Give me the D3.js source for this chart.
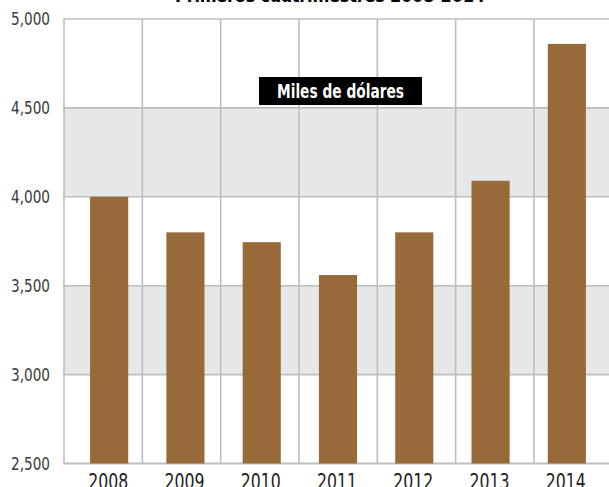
<!DOCTYPE html>
<html>
<head>
<meta charset="utf-8">
<script src="https://cdn.jsdelivr.net/npm/d3@7"></script>
<style>
  body { margin: 0; background: #fff; }
  svg { display: block; }
</style>
</head>
<body>
<div class="canvas"></div>
<script>
// data
const years = ['2008', '2009', '2010', '2011', '2012', '2013', '2014'];
const values = [4000, 3800, 3745, 3560, 3800, 4090, 4860];
const yTicks = [2500, 3000, 3500, 4000, 4500, 5000];
const shadedBands = [[3000, 3500], [4000, 4500]];
const title = 'Primeros cuatrimestres 2008-2014';
const unitLabel = 'Miles de dólares';

const width = 609, height = 487;
const plotLeft = 64, plotRight = 612.3, plotTop = 19, plotBottom = 463.5;

const svg = d3.select('.canvas').append('svg')
    .attr('width', width)
    .attr('height', height);

const y = d3.scaleLinear().domain([2500, 5000]).range([plotBottom, plotTop]);

// grid columns and bars sit on slightly different scales in the original
const xGrid = d3.scaleBand().domain(years).range([plotLeft, plotRight]);
const x = d3.scaleBand().domain(years).range([71, 605])
    .paddingInner(0.5).paddingOuter(0.25);

const gridColor = '#bcbec0';
const font = '"Liberation Sans Narrow", "DejaVu Sans Condensed", Arial, sans-serif';

// grey bands
svg.selectAll('rect.band')
    .data(shadedBands)
    .enter().append('rect')
    .attr('class', 'band')
    .attr('x', plotLeft)
    .attr('width', plotRight - plotLeft)
    .attr('y', d => y(d[1]))
    .attr('height', d => y(d[0]) - y(d[1]))
    .attr('fill', '#e6e7e8');

// vertical grid lines
const vLines = years.map(d => xGrid(d)).concat([plotRight]);
svg.selectAll('line.v')
    .data(vLines)
    .enter().append('line')
    .attr('x1', d => d).attr('x2', d => d)
    .attr('y1', plotTop).attr('y2', plotBottom)
    .attr('stroke', gridColor)
    .attr('stroke-width', 1.6);

// horizontal grid lines
svg.selectAll('line.h')
    .data(yTicks)
    .enter().append('line')
    .attr('x1', plotLeft - 0.8).attr('x2', plotRight)
    .attr('y1', d => y(d)).attr('y2', d => y(d))
    .attr('stroke', gridColor)
    .attr('stroke-width', d => d === 2500 ? 2.2 : 1.6);

// bars
svg.selectAll('rect.bar')
    .data(values)
    .enter().append('rect')
    .attr('class', 'bar')
    .attr('x', (d, i) => x(years[i]))
    .attr('width', x.bandwidth())
    .attr('y', d => y(d))
    .attr('height', d => plotBottom - y(d))
    .attr('fill', '#996a39');

// y labels (narrow face in the original, squeezed to fit)
svg.selectAll('text.ytick')
    .data(yTicks)
    .enter().append('text')
    .attr('x', 50)
    .attr('y', d => y(d) + 6)
    .attr('text-anchor', 'end')
    .attr('fill', '#3a3a3a')
    .attr('textLength', 39)
    .attr('lengthAdjust', 'spacingAndGlyphs')
    .style('font-family', font)
    .style('font-size', '18px')
    .text(d3.format(','));

// x labels, cut by the bottom edge as in the original
svg.selectAll('text.xtick')
    .data(years)
    .enter().append('text')
    .attr('x', d => x(d) + x.bandwidth() / 2 - 1)
    .attr('y', 489)
    .attr('text-anchor', 'middle')
    .attr('fill', '#222')
    .attr('textLength', 40)
    .attr('lengthAdjust', 'spacingAndGlyphs')
    .style('font-family', font)
    .style('font-size', '21px')
    .text(d => d);

// unit label box
svg.append('rect')
    .attr('x', 259).attr('y', 77)
    .attr('width', 163).attr('height', 28)
    .attr('fill', '#000');
svg.append('text')
    .attr('x', 340.5).attr('y', 98)
    .attr('text-anchor', 'middle')
    .attr('fill', '#fff')
    .attr('textLength', 127)
    .attr('lengthAdjust', 'spacingAndGlyphs')
    .style('font-family', font)
    .style('font-weight', 'bold')
    .style('font-size', '19px')
    .text(unitLabel);

// title, mostly cut off at the top edge
svg.append('text')
    .attr('x', 330).attr('y', 1.5)
    .attr('text-anchor', 'middle')
    .attr('fill', '#000')
    .attr('textLength', 310)
    .style('font-family', font)
    .style('font-weight', 'bold')
    .style('font-size', '18px')
    .text(title);
</script>
</body>
</html>
